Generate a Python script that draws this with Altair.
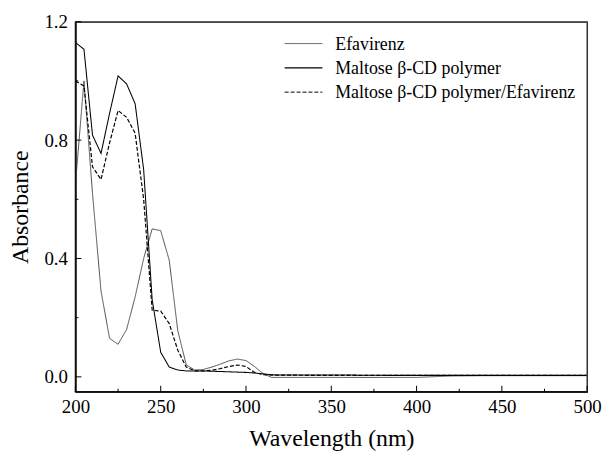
import altair as alt
import pandas as pd

wavelength = [200, 205, 210, 215, 220, 225, 230, 235, 240, 245, 250, 255, 260,
              265, 270, 275, 280, 285, 290, 295, 300, 305, 310, 315, 320,
              340, 360, 380, 400, 420, 440, 460, 480, 500]
efavirenz = [0.65, 1.00, 0.62, 0.29, 0.13, 0.11, 0.16, 0.27, 0.40, 0.50, 0.494, 0.394, 0.156,
             0.04, 0.023, 0.025, 0.033, 0.043, 0.054, 0.06, 0.055, 0.035, 0.011, -0.002, -0.002,
             -0.002, -0.002, -0.002, -0.002, 0.003, 0.004, 0.004, 0.004, 0.004]
maltose = [1.13, 1.107, 0.817, 0.755, 0.89, 1.017, 0.99, 0.923, 0.70, 0.26, 0.083, 0.033, 0.023,
           0.02, 0.02, 0.02, 0.019, 0.018, 0.017, 0.016, 0.015, 0.013, 0.01, 0.007, 0.006,
           0.006, 0.006, 0.005, 0.005, 0.005, 0.005, 0.005, 0.005, 0.005]
complex_ = [1.0, 0.983, 0.71, 0.667, 0.79, 0.90, 0.877, 0.823, 0.60, 0.225, 0.222, 0.18, 0.09,
            0.033, 0.02, 0.02, 0.022, 0.028, 0.035, 0.04, 0.035, 0.015, 0.007, 0.006, 0.006,
            0.005, 0.005, 0.005, 0.005, 0.005, 0.005, 0.005, 0.005, 0.005]
series_names = ["Efavirenz", "Maltose \u03b2-CD polymer", "Maltose \u03b2-CD polymer/Efavirenz"]

x_major = [200, 250, 300, 350, 400, 450, 500]
x_minor = [225, 275, 325, 375, 425, 475]
y_major = [0.0, 0.4, 0.8, 1.2]
y_minor = [0.2, 0.6, 1.0]

series_colors = ["#3a3a3a", "#000000", "#000000"]
series_dash = [[1, 0], [1, 0], [4, 2]]
series_width = [0.9, 1.2, 1.0]

rows = []
for name, vals in zip(series_names, [efavirenz, maltose, complex_]):
    for w, v in zip(wavelength, vals):
        rows.append({"Wavelength": w, "Absorbance": v, "Series": name})
df = pd.DataFrame(rows)

FONT = "Liberation Serif"
W, H = 516, 373

xscale = alt.Scale(domain=[200, 500], nice=False, zero=False)
yscale = alt.Scale(domain=[-0.05, 1.2], nice=False, zero=False)

lines = alt.Chart(df).mark_line().encode(
    x=alt.X("Wavelength:Q", scale=xscale,
            axis=alt.Axis(values=x_major, ticks=False, domain=True, domainColor="black",
                          domainWidth=1.3, grid=False,
                          labelFont=FONT, labelFontSize=19, labelColor="black",
                          labelPadding=6, title="Wavelength (nm)", titleFont=FONT,
                          titleFontSize=24, titleFontWeight="normal", titleColor="black",
                          titlePadding=10, labelFlush=False)),
    y=alt.Y("Absorbance:Q", scale=yscale,
            axis=alt.Axis(values=y_major, format=".1f", ticks=False, domain=True,
                          domainColor="black", domainWidth=1.3, grid=False,
                          labelFont=FONT, labelFontSize=19, labelColor="black",
                          labelPadding=8, title="Absorbance", titleFont=FONT,
                          titleFontSize=24, titleFontWeight="normal", titleColor="black",
                          titlePadding=12, labelFlush=False)),
    color=alt.Color("Series:N", scale=alt.Scale(domain=series_names, range=series_colors),
                    legend=None),
    strokeDash=alt.StrokeDash("Series:N", scale=alt.Scale(domain=series_names, range=series_dash),
                              legend=None),
    strokeWidth=alt.StrokeWidth("Series:N", scale=alt.Scale(domain=series_names, range=series_width),
                                legend=None),
    order=alt.Order("Wavelength:Q"),
)

legend_layers = []
for i, name in enumerate(series_names):
    ly = 22 + 24.5 * i
    ldf = pd.DataFrame({"Series": [name]})
    legend_layers.append(
        alt.Chart(ldf).mark_rule(color=series_colors[i], strokeDash=series_dash[i],
                                 strokeWidth=series_width[i]).encode(
            x=alt.value(211), x2=alt.value(249), y=alt.value(ly))
    )
    legend_layers.append(
        alt.Chart(ldf).mark_text(font=FONT, fontSize=18, align="left", baseline="middle",
                                 color="black").encode(
            x=alt.value(262), y=alt.value(ly + 1), text="Series:N")
    )

# frame drawn as thin filled rectangles
edge_df = pd.DataFrame({"Series": ["edge"]})
edges = [
    alt.Chart(edge_df).mark_rect(color="#111111").encode(
        x=alt.value(-0.7), x2=alt.value(0.7), y=alt.value(0), y2=alt.value(H)),
    alt.Chart(edge_df).mark_rect(color="#111111").encode(
        x=alt.value(-0.7), x2=alt.value(W), y=alt.value(H - 0.7), y2=alt.value(H + 0.7)),
    alt.Chart(edge_df).mark_rect(color="#555555").encode(
        x=alt.value(0), x2=alt.value(W), y=alt.value(-0.5), y2=alt.value(0.6)),
    alt.Chart(edge_df).mark_rect(color="#555555").encode(
        x=alt.value(W - 0.6), x2=alt.value(W + 0.5), y=alt.value(0), y2=alt.value(H)),
]

# inward ticks as tick marks
xmaj = alt.Chart(pd.DataFrame({"Wavelength": x_major})).mark_tick(
    color="#000000", orient="vertical", size=6, thickness=1, opacity=1).encode(
    x=alt.X("Wavelength:Q", scale=xscale), y=alt.value(H - 3))
xmin = alt.Chart(pd.DataFrame({"Wavelength": x_minor})).mark_tick(
    color="#000000", orient="vertical", size=3, thickness=1, opacity=1).encode(
    x=alt.X("Wavelength:Q", scale=xscale), y=alt.value(H - 1.5))
ymaj = alt.Chart(pd.DataFrame({"Absorbance": y_major})).mark_tick(
    color="#000000", orient="horizontal", size=6, thickness=1, opacity=1).encode(
    y=alt.Y("Absorbance:Q", scale=yscale), x=alt.value(3))
ymin = alt.Chart(pd.DataFrame({"Absorbance": y_minor})).mark_tick(
    color="#000000", orient="horizontal", size=3, thickness=1, opacity=1).encode(
    y=alt.Y("Absorbance:Q", scale=yscale), x=alt.value(1.5))

chart = alt.layer(lines, *legend_layers, *edges, xmaj, xmin, ymaj, ymin).properties(
    width=W, height=H,
    autosize=alt.AutoSizeParams(type="none"),
    padding={"left": 68, "top": 12, "right": 16, "bottom": 58},
).configure(background="white", view=alt.ViewConfig(stroke="black", strokeWidth=1.2))

chart.save("out.html", embed_options={"renderer": "svg", "actions": False})
